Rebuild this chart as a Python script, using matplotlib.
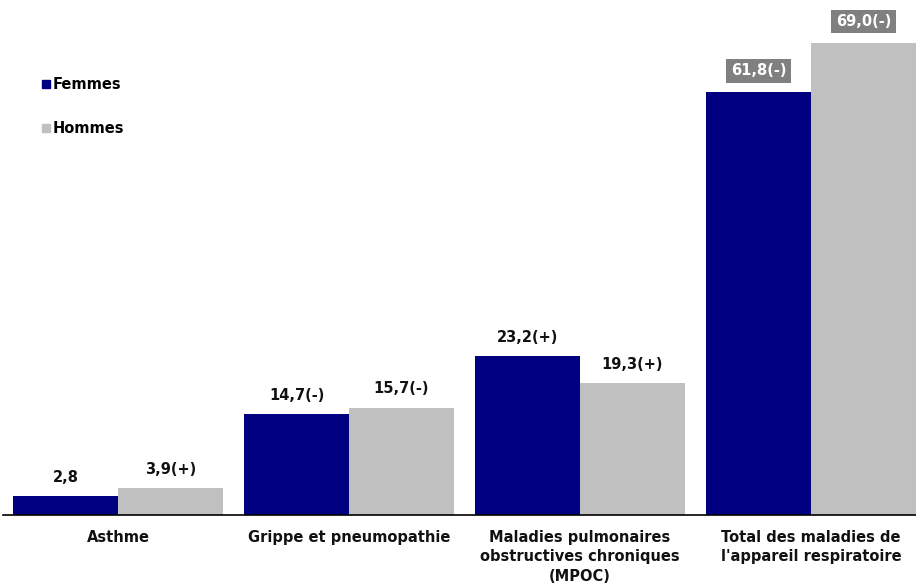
import matplotlib

matplotlib.use("Agg")
import matplotlib.pyplot as plt
import numpy as np
from matplotlib.lines import Line2D

categories = [
    "Asthme",
    "Grippe et pneumopathie",
    "Maladies pulmonaires\nobstructives chroniques\n(MPOC)",
    "Total des maladies de\nl'appareil respiratoire",
]
femmes = [2.8, 14.7, 23.2, 61.8]
hommes = [3.9, 15.7, 19.3, 69.0]
femmes_labels = ["2,8", "14,7(-)", "23,2(+)", "61,8(-)"]
hommes_labels = ["3,9(+)", "15,7(-)", "19,3(+)", "69,0(-)"]
boxed = [False, False, False, True]

NAVY = "#000080"
GREY = "#c0c0c0"

plt.rcParams["font.family"] = ["DejaVu Sans"]
FS = 10.5

W, H = 916, 585
fig = plt.figure(figsize=(W / 100, H / 100), dpi=100)
ax = fig.add_axes([2.5 / W, (H - 515) / H, (W - 2.5) / W, 515 / H])

x = np.arange(len(categories))
bw = 105 / 231
ax.bar(x - bw / 2, femmes, width=bw, color=NAVY, label="Femmes")
ax.bar(x + bw / 2, hommes, width=bw, color=GREY, label="Hommes")

for i in range(len(categories)):
    for xs, v, lab in ((x[i] - bw / 2, femmes[i], femmes_labels[i]),
                       (x[i] + bw / 2, hommes[i], hommes_labels[i])):
        if boxed[i]:
            ax.annotate(lab, (xs, v), xytext=(0, 15.5), textcoords="offset points",
                        ha="center", va="center", fontsize=FS, fontweight="bold",
                        color="white",
                        bbox=dict(boxstyle="square,pad=0.3", fc="#808080", ec="none"))
        else:
            ax.annotate(lab, (xs, v), xytext=(0, 13.5), textcoords="offset points",
                        ha="center", va="center", fontsize=FS, fontweight="bold",
                        color="#111111")

ax.set_xlim(-0.5, 3 + bw)
ax.set_ylim(0, 515 / 6.84)
ax.set_yticks([])
ax.set_xticks(x)
ax.set_xticklabels(categories, fontsize=FS, fontweight="bold", color="#111111",
                   linespacing=1.35)
ax.tick_params(axis="x", length=0, pad=11)
for s in ("top", "right", "left"):
    ax.spines[s].set_visible(False)
ax.spines["bottom"].set_linewidth(1.2)

handles = [
    Line2D([], [], marker="s", linestyle="none", markersize=5.8, color=NAVY),
    Line2D([], [], marker="s", linestyle="none", markersize=5.8, color=GREY),
]
leg = ax.legend(handles, ["Femmes", "Hommes"], loc="upper left",
                bbox_to_anchor=(33 / W, 1 - 71 / 515), frameon=False,
                handlelength=0.6, handletextpad=0.2, labelspacing=2.0,
                prop={"weight": "bold", "size": FS}, borderaxespad=0)

fig.savefig("out.png", dpi=100, facecolor="white")
